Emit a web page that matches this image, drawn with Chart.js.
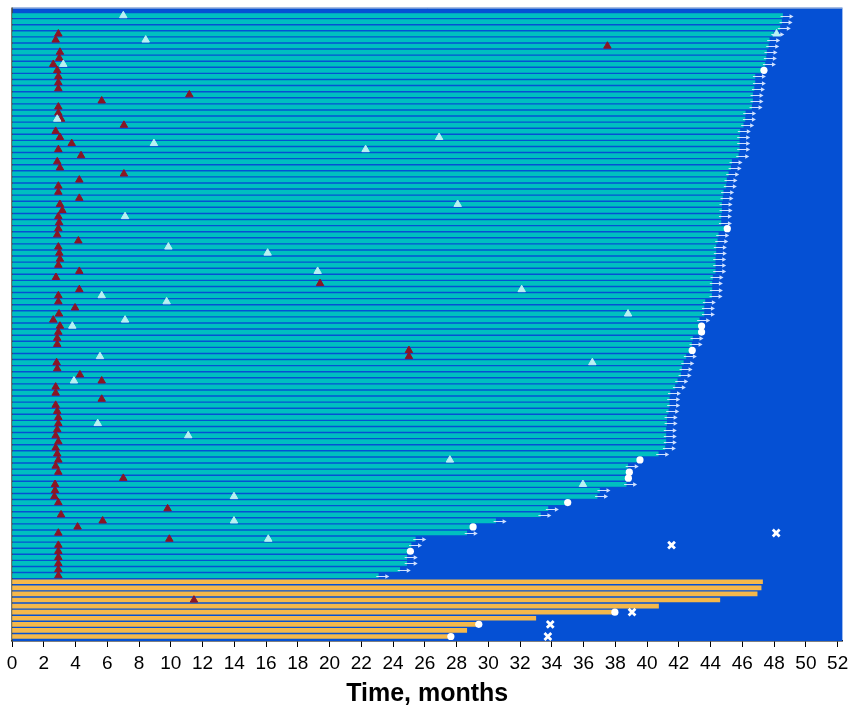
<!DOCTYPE html>
<html>
<head>
<meta charset="utf-8">
<script src="https://cdn.jsdelivr.net/npm/chart.js@4.4.1/dist/chart.umd.min.js"></script>
<style>
  html, body { margin: 0; padding: 0; background: #ffffff; }
  #wrap { width: 850px; height: 705px; position: relative; }
</style>
</head>
<body>
<div id="wrap"><canvas id="c" width="850" height="705"></canvas></div>
<script>
// ---- DATA ----
// Teal rows 1..93 : time on study (months), top to bottom
const tealEnds = [
  48.53, 48.47, 48.36, 47.95, 47.69, 47.63, 47.52, 47.48, 47.42, 47.36,
  46.79, 46.79, 46.73, 46.64, 46.64, 46.58, 46.18, 46.16, 46.05, 45.84,
  45.80, 45.80, 45.80, 45.74, 45.32, 45.26, 45.11, 45.00, 44.96, 44.79,
  44.75, 44.69, 44.69, 44.65, 44.65, 45.05, 44.48, 44.42, 44.33, 44.33,
  44.29, 44.29, 44.29, 44.12, 44.08, 44.08, 44.06, 43.64, 43.58, 43.58,
  43.28, 43.43, 43.43, 42.86, 42.80, 42.84, 42.44, 42.28, 42.17, 42.11,
  41.90, 41.75, 41.44, 41.39, 41.39, 41.33, 41.23, 41.23, 41.18, 41.18,
  41.18, 41.12, 40.70, 39.55, 38.78, 38.88, 38.82, 38.68, 37.00, 36.85,
  35.00, 33.75, 33.28, 30.46, 29.04, 28.64, 25.40, 25.13, 25.09, 24.86,
  24.86, 24.42, 23.07
];
// Orange rows 94..103
const orangeEnds = [47.27, 47.18, 46.93, 44.58, 40.72, 37.90, 32.99, 29.30, 28.64, 27.60];

// Dark red triangles (row number, month)
const redTriRows = [4,5,6,7,8,9,10,11,12,13,14,15,16,17,18,19,20,21,22,23,24,25,26,27,28,29,30,31,32,33,34,35,36,37,38,39,40,41,42,43,44,45,46,47,48,49,50,51,52,53,54,55,56,57,58,59,60,61,62,63,64,65,66,67,68,69,70,71,72,73,74,75,76,77,78,79,80,81,82,83,84,85,86,87,88,89,90,91,92,93,97];
const redTriX = [2.92,2.75,37.5,3.02,2.98,2.60,2.85,2.92,2.92,2.92,11.17,5.65,2.92,2.92,3.09,7.05,2.75,3.02,3.76,2.92,4.35,2.85,3.02,7.05,4.24,2.92,2.92,4.24,3.02,3.17,2.92,2.97,2.92,2.85,4.18,2.92,2.98,3.02,2.92,4.24,2.77,19.4,4.24,2.92,2.92,3.97,2.96,2.60,3.02,2.92,2.85,2.85,25.0,25.0,2.81,2.85,4.28,5.65,2.75,2.75,5.65,2.75,2.85,2.92,2.92,2.85,2.75,2.92,2.75,2.85,2.92,2.75,2.92,7.01,2.71,2.71,2.67,2.92,9.80,3.09,5.71,4.13,2.92,9.91,2.92,2.92,2.92,2.92,2.92,2.92,11.46];

// Light cyan triangles (row number, month)
const cyanTriRows = [1,4,5,9,18,21,22,23,32,34,39,40,43,46,47,48,50,51,52,57,58,61,68,70,74,78,80,84,87];
const cyanTriX = [7.01,48.15,8.42,3.23,2.85,26.9,8.94,22.27,28.07,7.12,9.85,16.1,19.25,32.1,5.65,9.74,38.8,7.12,3.80,5.54,36.55,3.90,5.40,11.1,27.58,35.96,13.98,13.98,16.14];

// White dots (row number, month)
const dotRows = [10,36,52,53,56,74,76,77,81,85,89,99,101,103];
const dotX = [47.36,45.05,43.43,43.43,42.84,39.55,38.88,38.82,35.0,29.04,25.09,37.97,29.4,27.64];

// White crosses (row number, month)
const crossRows = [86,88,99,101,103];
const crossX = [48.13,41.54,39.05,33.9,33.75];

// X axis
const xTicks = [0,2,4,6,8,10,12,14,16,18,20,22,24,26,28,30,32,34,36,38,40,42,44,46,48,50,52];
const xMin = 0, xMax = 52.3;
const xTitle = 'Time, months';

// ---- BUILD ----
const rowCount = tealEnds.length + orangeEnds.length;
const tealData = tealEnds.map((v, i) => ({ x: v, y: i + 1 }));
const orangeData = orangeEnds.map((v, i) => ({ x: v, y: tealEnds.length + i + 1 }));
const pts = (rows, xs) => rows.map((r, i) => ({ x: xs[i], y: r }));

const C = {
  bg: '#0550d4',
  teal: '#00bfc0',
  orange: '#f5b84b',
  red: '#8a1626',
  cyan: '#b8f1f3',
  white: '#ffffff',
  arrow: '#cfe0ff'
};

const bgPlugin = {
  id: 'bgPlugin',
  beforeDatasetsDraw(chart) {
    const a = chart.chartArea, ctx = chart.ctx;
    ctx.save();
    ctx.fillStyle = C.bg;
    ctx.fillRect(a.left, a.top, a.right - a.left, a.bottom - a.top);
    ctx.strokeStyle = '#b8c4d8';
    ctx.lineWidth = 1;
    ctx.beginPath();
    ctx.moveTo(a.left, a.top + 0.5); ctx.lineTo(a.right, a.top + 0.5);
    ctx.stroke();
    ctx.strokeStyle = '#4a4a3a';
    ctx.lineWidth = 1.5;
    ctx.beginPath();
    ctx.moveTo(a.left, a.top); ctx.lineTo(a.left, a.bottom);
    ctx.stroke();
    ctx.restore();
  }
};

const arrowPlugin = {
  id: 'arrowPlugin',
  afterDatasetDraw(chart, args) {
    if (chart.data.datasets[args.index].label !== 'teal') return;
    const xs = chart.scales.x, ys = chart.scales.y, ctx = chart.ctx;
    ctx.save();
    ctx.strokeStyle = C.arrow;
    ctx.fillStyle = C.arrow;
    ctx.lineWidth = 1;
    tealEnds.forEach((v, i) => {
      const row = i + 1;
      if (dotRows.includes(row)) return;
      const x0 = xs.getPixelForValue(v) - 2;
      const x1 = x0 + 13;
      const y = Math.round(ys.getPixelForValue(row)) + 0.5;
      ctx.beginPath();
      ctx.moveTo(x0, y); ctx.lineTo(x1 - 2, y);
      ctx.stroke();
      ctx.beginPath();
      ctx.moveTo(x1, y); ctx.lineTo(x1 - 4, y - 2.2); ctx.lineTo(x1 - 4, y + 2.2);
      ctx.closePath();
      ctx.fill();
    });
    ctx.restore();
  }
};

new Chart(document.getElementById('c'), {
  type: 'bar',
  data: {
    datasets: [
      { label: 'teal', type: 'bar', indexAxis: 'y', data: tealData, backgroundColor: C.teal,
        barThickness: 4, grouped: false, order: 10, borderWidth: 0 },
      { label: 'orange', type: 'bar', indexAxis: 'y', data: orangeData, backgroundColor: C.orange,
        barThickness: 4, grouped: false, order: 9, borderWidth: 0 },
      { label: 'red', type: 'scatter', data: pts(redTriRows, redTriX), pointStyle: 'triangle',
        pointRadius: 4.3, backgroundColor: C.red, borderColor: C.red, borderWidth: 1, order: 3 },
      { label: 'cyan', type: 'scatter', data: pts(cyanTriRows, cyanTriX), pointStyle: 'triangle',
        pointRadius: 4.3, backgroundColor: C.cyan, borderColor: C.cyan, borderWidth: 1, order: 2 },
      { label: 'dot', type: 'scatter', data: pts(dotRows, dotX), pointStyle: 'circle',
        pointRadius: 3.6, backgroundColor: C.white, borderColor: C.white, borderWidth: 0, order: 1 },
      { label: 'cross', type: 'scatter', data: pts(crossRows, crossX), pointStyle: 'crossRot',
        pointRadius: 4.8, backgroundColor: C.white, borderColor: C.white, borderWidth: 2.8, order: 0 }
    ]
  },
  options: {
    responsive: false,
    animation: false,
    events: [],
    layout: { padding: { left: 12, right: 7, top: 7, bottom: 0 } },
    plugins: { legend: { display: false }, tooltip: { enabled: false } },
    scales: {
      x: {
        type: 'linear', min: xMin, max: xMax, offset: false,
        afterBuildTicks: axis => { axis.ticks = xTicks.map(v => ({ value: v })); },
        afterFit: axis => { axis.paddingRight = 0; axis.paddingLeft = 0; },
        ticks: { color: '#000', padding: 7, maxRotation: 0, autoSkip: false,
                 font: { family: "'Liberation Sans', Arial, sans-serif", size: 19, lineHeight: 1 } },
        grid: { display: true, offset: false, drawOnChartArea: false, drawTicks: true, tickLength: 6, color: '#000', lineWidth: 1 },
        border: { display: true, color: '#000', width: 1.5 },
        title: { display: true, text: xTitle, color: '#000', padding: { top: 2, bottom: -2 },
                 font: { family: "'Liberation Sans', Arial, sans-serif", size: 25, weight: 'bold', lineHeight: 1 } }
      },
      y: {
        type: 'linear', reverse: true, min: -0.31, max: rowCount + 0.74, display: false,
        offset: false, grid: { offset: false }
      }
    }
  },
  plugins: [bgPlugin, arrowPlugin]
});
</script>
</body>
</html>
